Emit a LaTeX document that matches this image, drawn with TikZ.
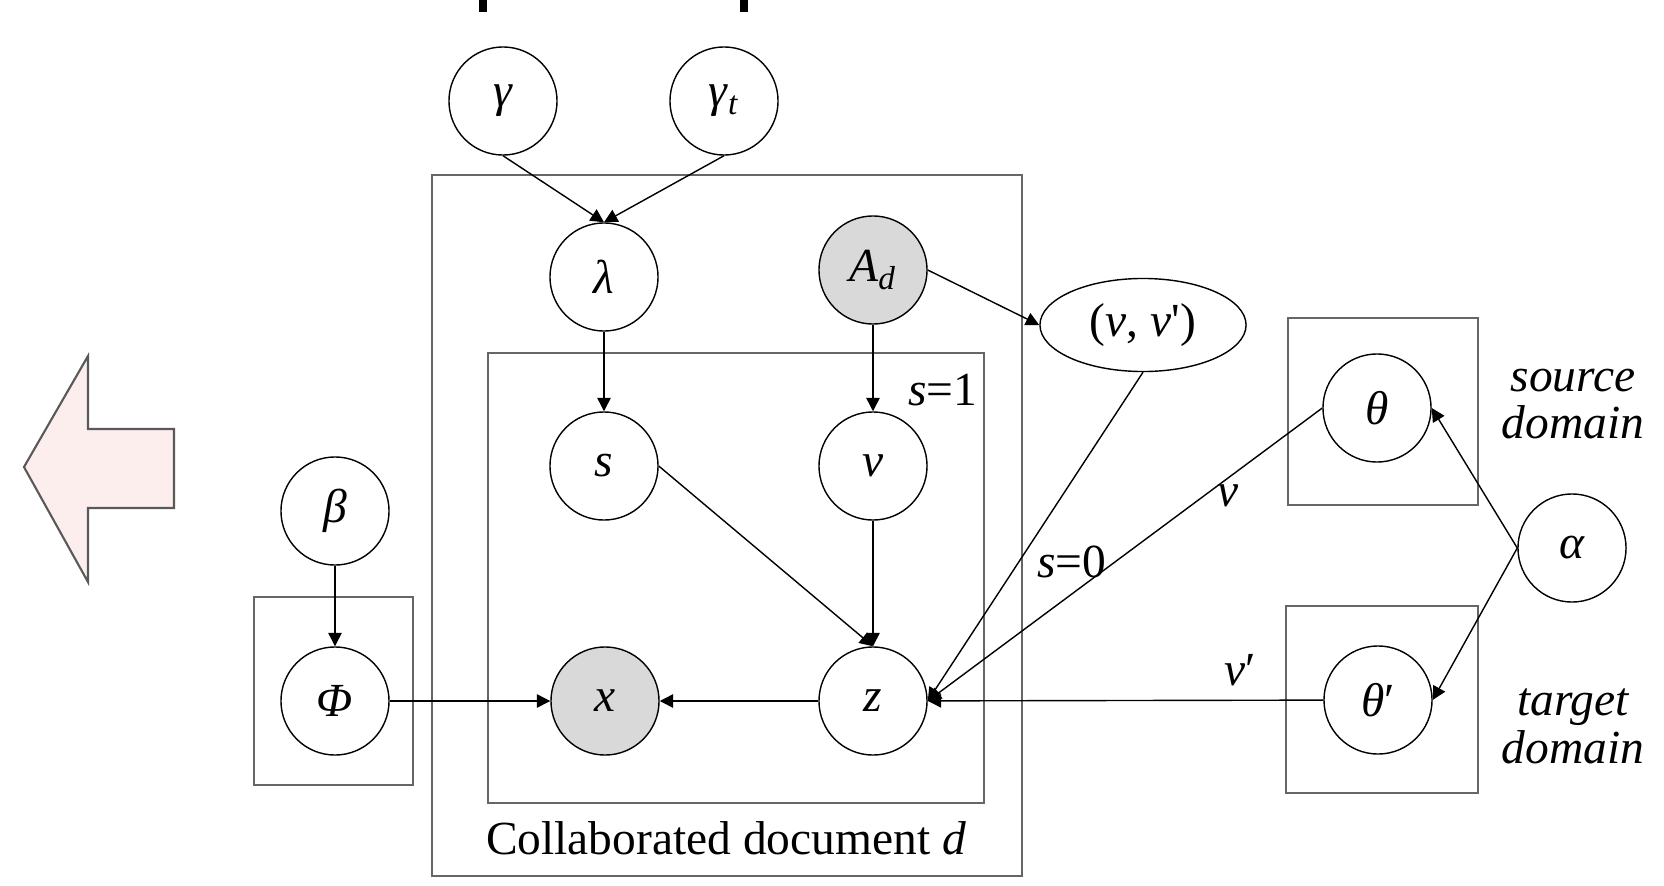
\documentclass[tikz,border=0pt]{standalone}
\usepackage{fontspec}
\setmainfont{Liberation Serif}
\usetikzlibrary{arrows.meta,shapes.geometric}
\definecolor{obsgray}{RGB}{217,217,217}
\definecolor{backpink}{RGB}{253,238,238}

\begin{document}
\begin{tikzpicture}[x=0.01cm, y=-0.01cm,
	every node/.style={font=\fontsize{13.5}{12.4}\selectfont},
	var/.style={draw, circle, minimum size=1.08cm, inner sep=0pt, line width=0.4pt},
	obs/.style={var, fill=obsgray},
	plate/.style={draw=black!60, line width=0.6pt},
	edge/.style={-{Triangle[length=3.8pt,width=3.8pt]}, line width=0.4pt},
	domaintext/.style={align=center, font=\fontsize{13.5}{13.6}\selectfont\itshape}]
	%%%%% START %%%%%
	\useasboundingbox (0,0) rectangle (1664,885);
	
	% cut-off marks at the top
	\fill (479,0) rectangle (487,12);
	\fill (740,0) rectangle (748,12);
	
	% back arrow
	\draw[fill=backpink, draw=black!65, line width=0.6pt] (24,467) -- (88,356) -- (88,429) -- (174,429) -- (174,508) -- (88,508) -- (88,582) -- cycle;
	
	% plates
	\draw[plate] (432,175) rectangle (1022,876);
	\draw[plate] (488,353) rectangle (984,803);
	\draw[plate] (254,597) rectangle (413,785);
	\draw[plate] (1288,318) rectangle (1478,505);
	\draw[plate] (1286,606) rectangle (1478,793);
	
	% variables
	\node[var] (gam) at (503,101) {\textit{γ}};
	\node[var] (gamt) at (724,101) {\textit{γ}\textsubscript{\textit{t}}};
	\node[var] (lam) at (604,277) {\textit{λ}};
	\node[obs] (ad) at (873,270) {\textit{A}\textsubscript{\textit{d}}};
	\node[draw, ellipse, minimum width=2.06cm, minimum height=0.93cm, inner sep=0pt, line width=0.4pt] (vv) at (1143,325) {(\textit{v}, \textit{v}\textquotesingle)};
	\node[var] (s) at (604,466) {\textit{s}};
	\node[var] (v) at (873,466) {\textit{v}};
	\node[var] (beta) at (335,511) {\textit{β}};
	\node[var] (phi) at (335,701) {\textit{Φ}};
	\node[obs] (x) at (605,701) {\textit{x}};
	\node[var] (z) at (873,701) {\textit{z}};
	\node[var] (th) at (1377,408) {\textit{θ}};
	\node[var] (thp) at (1378,700) {\textit{θ}′};
	\node[var] (alpha) at (1572,548) {\textit{α}};
	
	% labels
	\node (lbldoc) at (726,838) {Collaborated document \textit{d}};
	\node (lblsone) at (943,390) {\textit{s}=1};
	\node (lblszero) at (1072,562) {\textit{s}=0};
	\node (lblv) at (1228,496) {\textit{v}};
	\node (lblvp) at (1240,670) {\textit{v}′};
	\node[domaintext] (lblsrc) at (1573,404) {source\\domain};
	\node[domaintext] (lbltgt) at (1573,726) {target\\domain};
	
	% edges
	\draw[edge] (gam.south) -- (lam.north);
	\draw[edge] (gamt.south) -- (lam.north);
	\draw[edge] (lam) -- (s);
	\draw[edge] (ad) -- (v);
	\draw[edge] (ad.east) -- (vv.west);
	\draw[edge] (s.east) -- (z.north);
	\draw[edge] (v) -- (z);
	\draw[edge] (z) -- (x);
	\draw[edge] (phi) -- (x);
	\draw[edge] (beta) -- (phi);
	\draw[edge] (vv.south) -- (z.east);
	\draw[edge] (th.west) -- (z.east);
	\draw[edge] (thp) -- (z);
	\draw[edge] (alpha.west) -- (th.east);
	\draw[edge] (alpha.west) -- (thp.east);
	%%%%% END %%%%%
\end{tikzpicture}
\end{document}
